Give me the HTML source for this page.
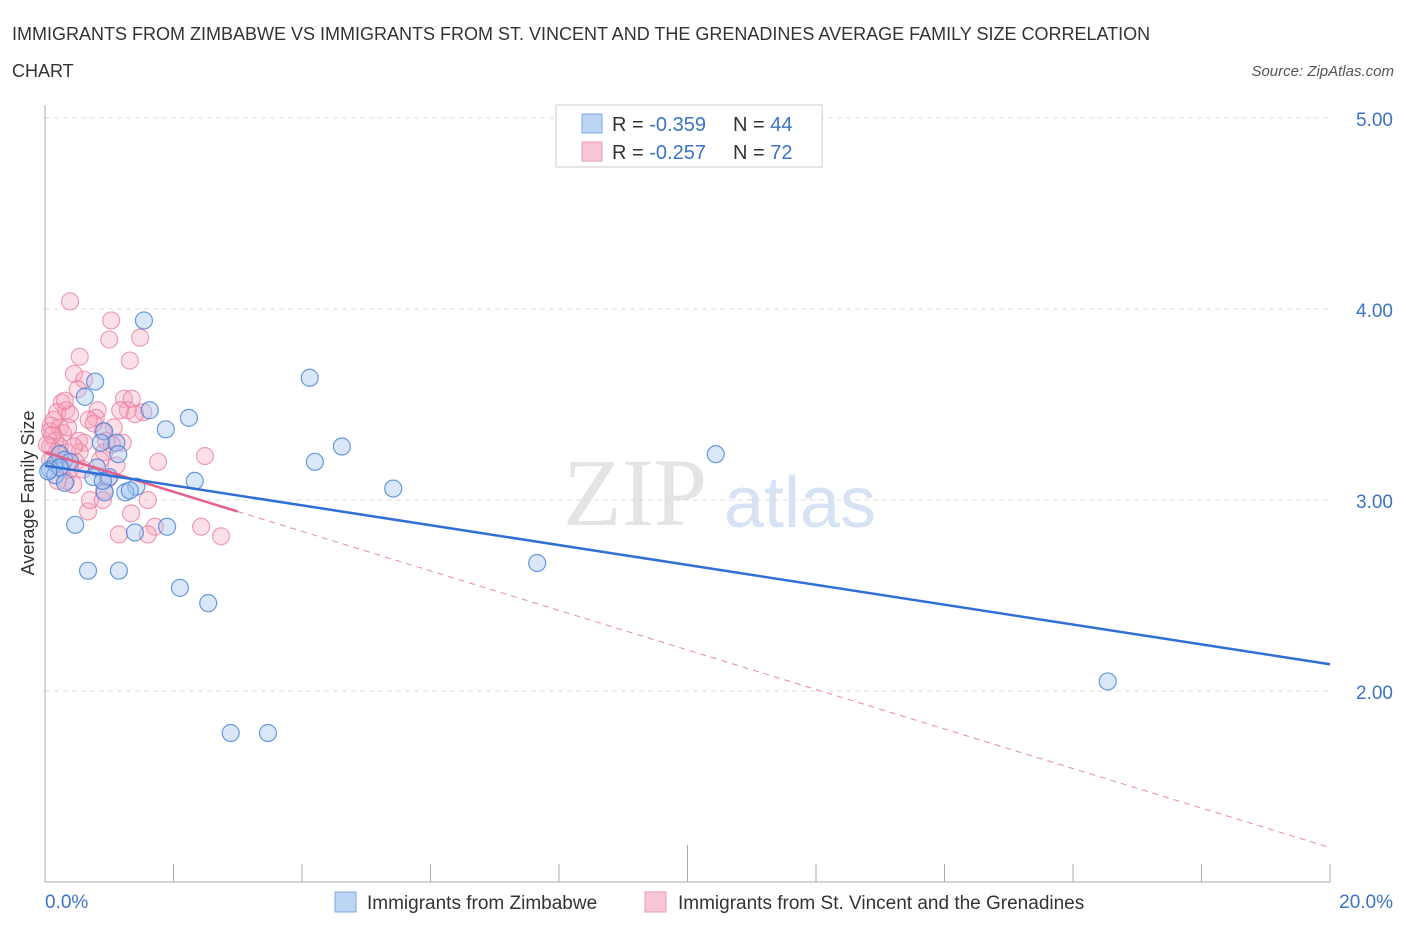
<!DOCTYPE html>
<html><head><meta charset="utf-8"><style>
body{margin:0;background:#fff;font-family:"Liberation Sans",sans-serif;}
svg text{font-family:"Liberation Sans",sans-serif;}
</style></head><body>
<svg id="chart" width="1406" height="930" xmlns="http://www.w3.org/2000/svg">
<text x="12" y="40" font-size="18" fill="#333">IMMIGRANTS FROM ZIMBABWE VS IMMIGRANTS FROM ST. VINCENT AND THE GRENADINES AVERAGE FAMILY SIZE CORRELATION</text>
<text x="12" y="77" font-size="18" fill="#333">CHART</text>
<text x="1394" y="76" font-size="15" fill="#555" font-style="italic" text-anchor="end">Source: ZipAtlas.com</text>
<g>
<text x="635" y="525" font-size="96" fill="#e4e4e4" font-family="Liberation Serif" text-anchor="middle" style="font-family:'Liberation Serif',serif">ZIP</text>
<text x="800" y="527" font-size="72" fill="#d6e3f4" text-anchor="middle">atlas</text>
</g>
<g id="grid"></g>
<g id="axes"></g>
<g id="marks"></g>
<g>
<rect x="556" y="105" width="266" height="62" fill="#fff" stroke="#ccc"/>
<rect x="582" y="114" width="20" height="19" fill="#bcd5f5" stroke="#7fa8e0"/>
<rect x="582" y="142" width="20" height="19" fill="#f9c6d5" stroke="#ee9ab4"/>
<text x="612" y="131" font-size="20" fill="#333">R = <tspan fill="#3b73c8">-0.359</tspan></text>
<text x="733" y="131" font-size="20" fill="#333">N = <tspan fill="#3b73c8">44</tspan></text>
<text x="612" y="159" font-size="20" fill="#333">R = <tspan fill="#3b73c8">-0.257</tspan></text>
<text x="733" y="159" font-size="20" fill="#333">N = <tspan fill="#3b73c8">72</tspan></text>
</g>
<g>
<rect x="335" y="892" width="21" height="20" fill="#bcd5f5" stroke="#7fa8e0"/>
<text x="367" y="909" font-size="19" fill="#333">Immigrants from Zimbabwe</text>
<rect x="645" y="892" width="21" height="20" fill="#f9c6d5" stroke="#ee9ab4"/>
<text x="678" y="909" font-size="19" fill="#333">Immigrants from St. Vincent and the Grenadines</text>
</g>
<text transform="translate(34,493) rotate(-90)" font-size="18" fill="#333" text-anchor="middle">Average Family Size</text>
</svg>
<script>
const yTicks=[2,3,4,5];
const yTickLabels=["2.00","3.00","4.00","5.00"];
const xTickLabels=["0.0%","20.0%"];
const blueX=[1.54,0.78,0.62,1.63,2.24,1.88,0.92,1.11,0.87,1.14,0.23,0.30,0.16,0.81,0.08,0.16,0.75,1.00,2.33,1.42,1.25,0.93,0.47,1.90,1.40,0.67,1.15,2.10,2.54,2.89,3.47,4.12,4.62,4.20,5.42,7.66,10.44,16.54,0.39,0.23,0.05,0.90,1.32,0.31];
const blueY=[3.94,3.62,3.54,3.47,3.43,3.37,3.36,3.30,3.30,3.24,3.24,3.21,3.19,3.17,3.16,3.13,3.12,3.12,3.10,3.07,3.04,3.04,2.87,2.86,2.83,2.63,2.63,2.54,2.46,1.78,1.78,3.64,3.28,3.20,3.06,2.67,3.24,2.05,3.20,3.17,3.15,3.10,3.05,3.09];
const pinkX=[0.39,1.03,1.00,1.48,0.54,1.32,0.45,0.61,0.51,1.23,1.35,0.26,0.33,0.19,0.82,1.29,1.53,0.39,0.79,0.09,0.23,1.07,0.08,0.28,0.90,0.16,0.53,0.61,1.21,0.08,0.23,0.54,0.92,0.34,1.76,2.49,1.11,0.08,0.20,0.39,0.98,0.33,0.44,0.92,1.60,0.67,1.34,1.71,2.43,1.15,1.60,2.74,0.14,0.31,0.68,0.48,0.26,0.76,0.95,0.11,0.19,0.59,0.86,1.04,0.36,0.45,1.17,0.70,0.90,0.20,0.03,1.40];
const pinkY=[4.04,3.94,3.84,3.85,3.75,3.73,3.66,3.63,3.58,3.53,3.53,3.51,3.47,3.46,3.47,3.47,3.46,3.45,3.43,3.39,3.38,3.38,3.36,3.35,3.36,3.31,3.31,3.30,3.30,3.28,3.28,3.25,3.25,3.25,3.20,3.23,3.18,3.21,3.20,3.16,3.11,3.10,3.08,3.05,3.00,2.94,2.93,2.86,2.86,2.82,2.82,2.81,3.42,3.52,3.42,3.20,3.16,3.40,3.31,3.34,3.25,3.16,3.21,3.29,3.38,3.28,3.47,3.00,3.00,3.10,3.29,3.45];
const blueLine=[3.18,2.14];   // y at x=0 and x=20
const pinkLine=[3.25,1.18];
const pinkSolidEnd=3.0;
const NS="http://www.w3.org/2000/svg";
const X=v=>45+v/20*1285;
const Y=v=>118+(5-v)*191;
function mk(tag,attrs,parent){const e=document.createElementNS(NS,tag);for(const k in attrs)e.setAttribute(k,attrs[k]);parent.appendChild(e);return e;}
const grid=document.getElementById('grid'),axes=document.getElementById('axes'),marks=document.getElementById('marks');
yTicks.forEach((t,i)=>{
 const l=mk('line',{x1:45,x2:1330,y1:Y(t),y2:Y(t),stroke:'#ddd','stroke-dasharray':'5,4'},grid);
 
 
 const tx=mk('text',{x:1393,y:Y(t)+8,'font-size':19,fill:'#3b73c8','text-anchor':'end'},axes);
 tx.textContent=yTickLabels[i];
 
 
});
const ax=mk('line',{x1:45,x2:45,y1:105,y2:882,stroke:'#aaa'},axes);


const bx=mk('line',{x1:45,x2:1330,y1:882,y2:882,stroke:'#aaa'},axes);


for(let i=0;i<=10;i++){
 const tk=mk('line',{x1:X(i*2),x2:X(i*2),y1:i==5?845:864,y2:882,stroke:'#aaa'},axes);
 
 
}
[[0,'start',45],[20,'end',1393]].forEach((d,i)=>{
 const t=mk('text',{x:d[2],y:908,'font-size':19,fill:'#3b73c8','text-anchor':d[1]},axes);
 t.textContent=xTickLabels[i];
 
 
});
pinkX.forEach((x,i)=>{
 const c=mk('circle',{cx:X(x),cy:Y(pinkY[i]),r:8.5,fill:'rgba(245,165,190,0.35)',stroke:'rgba(232,120,155,0.7)','stroke-width':1.2},marks);
 
 
});
blueX.forEach((x,i)=>{
 const c=mk('circle',{cx:X(x),cy:Y(blueY[i]),r:8.5,fill:'rgba(160,195,240,0.4)',stroke:'rgba(70,130,215,0.8)','stroke-width':1.2},marks);
 
 
});
const py=x=>pinkLine[0]+(pinkLine[1]-pinkLine[0])*x/20;
const pd=mk('line',{x1:X(pinkSolidEnd),y1:Y(py(pinkSolidEnd)),x2:X(20),y2:Y(pinkLine[1]),stroke:'#e88aa8','stroke-width':1,'stroke-dasharray':'6,5'},marks);


const ps=mk('line',{x1:X(0),y1:Y(pinkLine[0]),x2:X(pinkSolidEnd),y2:Y(py(pinkSolidEnd)),stroke:'#e5608a','stroke-width':2.5},marks);


const bl=mk('line',{x1:X(0),y1:Y(blueLine[0]),x2:X(20),y2:Y(blueLine[1]),stroke:'#2f6fd6','stroke-width':2.5},marks);


</script>
</body></html>
